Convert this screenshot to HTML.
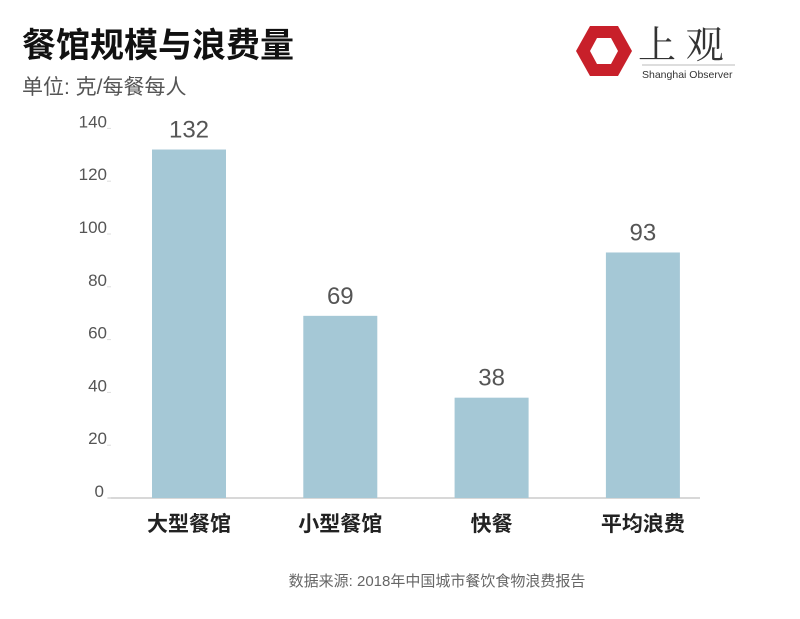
<!DOCTYPE html>
<html><head><meta charset="utf-8"><style>
body{margin:0;width:800px;height:614px;background:#fff;overflow:hidden;font-family:"Liberation Sans","Noto Sans CJK SC",sans-serif;}
</style></head><body>
<svg width="800" height="614" xmlns="http://www.w3.org/2000/svg">
<text x="22" y="57" font-size="34" font-weight="bold" fill="#111" font-family="Liberation Sans,Noto Sans CJK SC,sans-serif">餐馆规模与浪费量</text>
<text x="22" y="94" font-size="21" fill="#555" font-family="Liberation Sans,Noto Sans CJK SC,sans-serif">单位: 克/每餐每人</text>
<g>
<polygon points="590,26 618,26 632,51 618,76 590,76 576,51" fill="#c8202a"/>
<polygon points="597,38 611,38 618,51 611,64 597,64 590,51" fill="#fff"/>
<text x="638" y="58" font-size="38" fill="#333" font-family="Noto Serif CJK SC,serif">上 观</text>
<line x1="642" y1="65" x2="735" y2="65" stroke="#bbb" stroke-width="1"/>
<text x="642" y="78" font-size="10.5" fill="#333">Shanghai Observer</text>
</g>
<g id="axis"></g>
<g id="bars"></g>
<text x="437" y="586" font-size="15" fill="#666" text-anchor="middle" font-family="Liberation Sans,Noto Sans CJK SC,sans-serif">数据来源: 2018年中国城市餐饮食物浪费报告</text>
</svg>
<script>
const categories=["大型餐馆","小型餐馆","快餐","平均浪费"];
const values=[132,69,38,93];
const ticks=[0,20,40,60,80,100,120,140];
const NS="http://www.w3.org/2000/svg";
const y0=498, k=2.64;
function y(v){return y0-v*k;}
function xc(i){return 189+i*151.3;}
function mk(tag,attrs,parent){const e=document.createElementNS(NS,tag);for(const a in attrs)e.setAttribute(a,attrs[a]);parent.appendChild(e);return e;}
const ax=document.getElementById('axis'), bg=document.getElementById('bars');
const base=mk('line',{x1:108,x2:700,y1:y0,y2:y0,stroke:'#ccc','stroke-width':1.5},ax);


ticks.forEach(t=>{
 const tx=mk('text',{x:t===0?104:107,y:y(t)-1,'font-size':17,fill:'#555','text-anchor':'end'},ax);
 tx.textContent=t;
 
 
 const tk=mk('line',{x1:107,x2:111,y1:y(t),y2:y(t),stroke:'#ddd'},ax);
 
 
});
categories.forEach((c,i)=>{
 const r=mk('rect',{x:xc(i)-37,y:y(values[i]),width:74,height:values[i]*k,fill:'#a5c8d6'},bg);
 
 
 const v=mk('text',{x:xc(i),y:y(values[i])-12,'font-size':24,fill:'#555','text-anchor':'middle'},bg);
 v.textContent=values[i];
 
 
 const l=mk('text',{x:xc(i),y:531,'font-size':21,'font-weight':'bold',fill:'#222','text-anchor':'middle'},bg);
 l.textContent=c;
 
 
});
</script>
</body></html>
